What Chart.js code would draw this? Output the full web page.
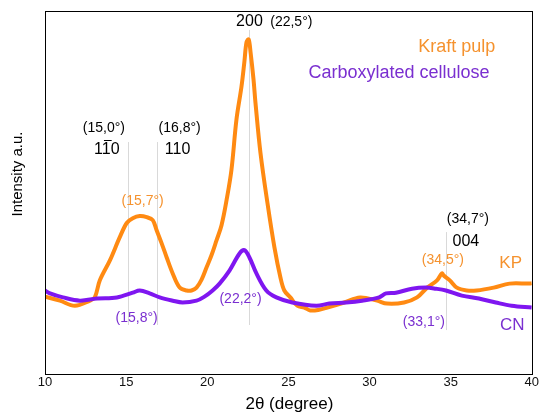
<!DOCTYPE html>
<html>
<head>
<meta charset="utf-8">
<script src="https://cdn.jsdelivr.net/npm/chart.js@4/dist/chart.umd.min.js"></script>
<style>
  html, body { margin: 0; padding: 0; background: #fff; }
  #wrap { width: 540px; height: 412px; position: relative; }
</style>
</head>
<body>
<div id="wrap"><canvas id="c"></canvas></div>
<script>
// ---- data ----
const xTicks = [10, 15, 20, 25, 30, 35, 40];

const kpX = [10.0, 10.92, 11.84, 12.77, 13.07, 13.38, 14.0, 14.61, 15.04, 15.41, 15.84, 16.27, 16.64, 16.88, 17.19, 17.5, 17.87, 18.3, 18.73, 19.03, 19.34, 19.65, 19.96, 20.26, 20.57, 20.88, 21.19, 21.49, 21.8, 22.11, 22.29, 22.42, 22.55, 22.67, 22.85, 22.97, 23.28, 23.71, 24.14, 24.51, 24.75, 25.12, 25.55, 25.98, 26.35, 26.9, 27.4, 28.44, 29.42, 30.47, 31.08, 32.13, 32.93, 33.55, 34.16, 34.46, 34.58, 34.95, 35.38, 35.99, 36.6, 37.65, 38.63, 39.86, 40.0];
const kpY = [21.3, 20.2, 18.8, 20.2, 21.1, 25.8, 31.3, 37.7, 41.6, 42.9, 43.5, 43.2, 42.4, 39.6, 36.0, 32.1, 27.7, 23.8, 23.0, 23.0, 23.8, 26.0, 29.4, 32.7, 36.8, 41.0, 47.9, 56.2, 70.1, 79.2, 86.1, 91.4, 92.2, 88.6, 81.2, 74.8, 60.9, 47.1, 34.9, 26.6, 23.0, 21.1, 18.8, 18.3, 17.5, 17.7, 18.3, 19.7, 21.1, 20.2, 19.4, 19.7, 21.1, 23.8, 25.8, 27.7, 27.1, 25.8, 23.8, 23.0, 23.0, 23.8, 24.9, 24.9, 25.0];

const cnX = [10.0, 10.31, 11.11, 12.15, 13.2, 14.43, 15.41, 15.84, 16.45, 17.07, 17.87, 18.48, 19.34, 19.83, 20.33, 20.76, 21.37, 21.99, 22.29, 22.6, 23.03, 23.64, 24.26, 25.24, 26.72, 27.52, 28.56, 29.54, 30.59, 31.02, 31.63, 32.62, 33.48, 34.09, 34.71, 35.69, 36.74, 37.78, 38.76, 40.0];
const cnY = [23.0, 22.2, 21.1, 20.2, 20.8, 21.1, 22.4, 23.0, 22.2, 21.1, 20.2, 19.7, 20.2, 21.3, 23.0, 24.9, 28.5, 33.2, 34.1, 32.1, 27.7, 23.0, 21.1, 19.7, 18.8, 19.4, 19.7, 20.2, 21.1, 22.2, 22.4, 23.5, 23.8, 23.5, 23.0, 21.6, 20.8, 19.7, 18.8, 18.3];

// reference peak lines (x, from y, to y)
const peakLineX    = [15.1, 16.9, 22.55, 34.7];
const peakLineFrom = [13.5, 13.5, 13.5, 12.1];
const peakLineTo   = [63.9, 63.9, 94.8, 39.1];

// annotation texts
const noteText  = ["(15,0°)", "110", "(16,8°)", "110", "200", "(22,5°)", "Kraft pulp", "Carboxylated cellulose", "(15,7°)", "(15,8°)", "(22,2°)", "(34,7°)", "004", "(34,5°)", "KP", "(33,1°)", "CN"];
const noteX     = [13.63, 13.81, 18.30, 18.17, 22.60, 25.18, 35.38, 31.82, 16.02, 15.65, 22.05, 36.06, 35.94, 34.52, 38.70, 33.35, 38.80];
const noteY     = [67.8, 61.7, 67.8, 61.7, 97.2, 97.0, 90.1, 82.9, 47.5, 15.4, 20.7, 42.6, 36.6, 31.4, 30.6, 14.4, 13.4];
const noteKind  = ["p", "m", "p", "m", "m", "p", "L", "L", "p", "p", "p", "p", "m", "p", "L", "p", "L"];
const noteColor = ["k", "k", "k", "k", "k", "k", "o", "v", "o", "v", "v", "k", "k", "o", "o", "v", "v"];
const noteBar   = [false, true, false, false, false, false, false, false, false, false, false, false, false, false, false, false, false];

const ORANGE = '#ff8a12';
const ORANGE_T = '#f5922e';
const VIOLET = '#7f16f0';
const VIOLET_T = '#7a2fd0';
const FONT = '"Liberation Sans", Arial, sans-serif';

const decor = {
  id: 'decor',
  beforeDatasetsDraw(chart) {
    const {ctx, scales: {x, y}} = chart;
    ctx.save();
    ctx.strokeStyle = '#d9d9d9';
    ctx.lineWidth = 1;
    for (let i = 0; i < peakLineX.length; i++) {
      const px = Math.round(x.getPixelForValue(peakLineX[i])) + 0.5;
      ctx.beginPath();
      ctx.moveTo(px, y.getPixelForValue(peakLineFrom[i]));
      ctx.lineTo(px, y.getPixelForValue(peakLineTo[i]));
      ctx.stroke();
    }
    ctx.restore();
  },
  afterDatasetsDraw(chart) {
    const {ctx, chartArea: a, scales: {x, y}} = chart;
    ctx.save();
    // frame
    ctx.strokeStyle = '#000';
    ctx.lineWidth = 1;
    ctx.strokeRect(Math.round(a.left) + 0.5, Math.round(a.top) + 0.5, Math.round(a.right - a.left), Math.round(a.bottom - a.top));
    // notes
    ctx.textAlign = 'center';
    ctx.textBaseline = 'middle';
    for (let i = 0; i < noteText.length; i++) {
      const size = noteKind[i] === 'p' ? 14 : (noteKind[i] === 'm' ? 16 : 18);
      ctx.font = size + 'px ' + FONT;
      let col = '#000';
      if (noteColor[i] === 'o') col = ORANGE_T;
      if (noteColor[i] === 'v') col = VIOLET_T;
      if (noteKind[i] === 'L' && noteText[i].length <= 2) ctx.font = '17px ' + FONT;
      ctx.fillStyle = col;
      const px = x.getPixelForValue(noteX[i]);
      const py = y.getPixelForValue(noteY[i]);
      ctx.fillText(noteText[i], px, py);
      if (noteBar[i]) {
        const w = ctx.measureText(noteText[i]).width;
        const w1 = ctx.measureText(noteText[i].slice(0, 1)).width;
        const w2 = ctx.measureText(noteText[i].slice(0, 2)).width;
        const left = px - w / 2;
        ctx.strokeStyle = col;
        ctx.lineWidth = 1;
        ctx.beginPath();
        ctx.moveTo(left + w1 + 1, Math.round(py - size * 0.62) + 0.5);
        ctx.lineTo(left + w2 + 1, Math.round(py - size * 0.62) + 0.5);
        ctx.stroke();
      }
    }
    // axis titles
    ctx.fillStyle = '#000';
    ctx.font = '17px ' + FONT;
    ctx.fillText('2θ (degree)', (a.left + a.right) / 2 + 1, 404);
    ctx.translate(18, 174);
    ctx.rotate(-Math.PI / 2);
    ctx.font = '15px ' + FONT;
    ctx.fillText('Intensity a.u.', 0, 0);
    ctx.restore();
  }
};

const toPts = (xs, ys) => xs.map((v, i) => ({x: v, y: ys[i]}));

new Chart(document.getElementById('c'), {
  type: 'line',
  data: {
    datasets: [
      {
        label: 'CN',
        data: toPts(cnX, cnY),
        borderColor: VIOLET,
        borderWidth: 4,
        pointRadius: 0,
        tension: 0.35,
        order: 0
      },
      {
        label: 'KP',
        data: toPts(kpX, kpY),
        borderColor: ORANGE,
        borderWidth: 4,
        pointRadius: 0,
        tension: 0.35,
        order: 1
      }
    ]
  },
  options: {
    responsive: true,
    maintainAspectRatio: false,
    animation: false,
    events: [],
    layout: { padding: { left: 0, right: 7, top: 11, bottom: 0 } },
    plugins: { legend: { display: false }, tooltip: { enabled: false } },
    scales: {
      x: {
        type: 'linear',
        min: 10, max: 40,
        afterFit(s) { s.height = 38; },
        afterBuildTicks(s) { s.ticks = xTicks.map(v => ({value: v})); },
        grid: { display: false, drawTicks: false },
        border: { display: true, color: '#000', width: 1 },
        ticks: { color: '#111', font: { family: FONT, size: 13 }, padding: 1, maxRotation: 0, autoSkip: false }
      },
      y: {
        min: 0, max: 100,
        afterFit(s) { s.width = 45; },
        grid: { display: false, drawTicks: false },
        border: { display: true, color: '#000', width: 1 },
        ticks: { display: false }
      }
    }
  },
  plugins: [decor]
});
</script>
</body>
</html>
